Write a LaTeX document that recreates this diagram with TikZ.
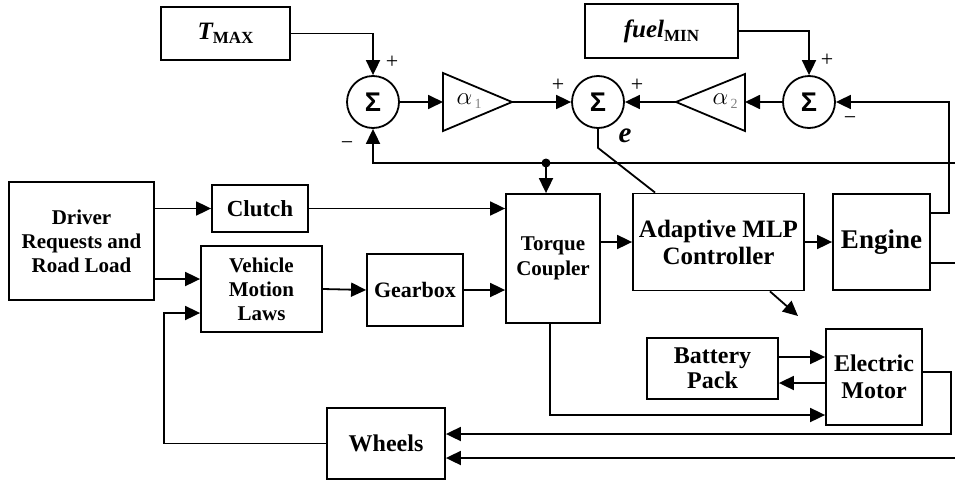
\documentclass[tikz,border=0pt]{standalone}
\usepackage{fontspec}
\setmainfont{Liberation Serif}
\newfontfamily\sansf{Liberation Sans}
\usetikzlibrary{arrows.meta}
\begin{document}
\begin{tikzpicture}[x=1pt,y=-1pt,
  blk/.style={draw, line width=1.8pt, inner sep=0pt, align=center},
  sumn/.style={draw, circle, line width=1.8pt, minimum size=52pt, inner sep=0pt, font=\sansf\fontsize{27}{27}\selectfont\bfseries},
  ln/.style={line width=1.8pt},
  arr/.style={line width=1.8pt, -{Triangle[length=15pt,width=14pt]}},
  sgn/.style={font=\fontsize{22}{22}\selectfont, inner sep=0pt}]
\useasboundingbox (0,0) rectangle (955,482);

% top references
\node[blk, minimum width=129pt, minimum height=53pt] (tmax) at (225.5,33.5)
  {{\fontsize{25}{25}\selectfont\bfseries\itshape T}{\fontsize{17}{17}\selectfont\bfseries\raisebox{-4pt}{MAX}}};
\node[blk, minimum width=153pt, minimum height=54pt] (fuel) at (661.5,31)
  {{\fontsize{25}{25}\selectfont\bfseries\itshape fuel}{\fontsize{17}{17}\selectfont\bfseries\raisebox{-4pt}{MIN}}};

% summing junctions
\node[sumn] (s1) at (373,102) {Σ};
\node[sumn] (s2) at (598,102) {Σ};
\node[sumn] (s3) at (809,102) {Σ};

% gains
\draw[ln] (443,73) -- (512,102) -- (443,131) -- cycle;
\coordinate (a1in) at (443,102);
\coordinate (a1out) at (512,102);
\node (a1lab) at (469,101) {\fontsize{28}{28}\selectfont$\alpha$\raisebox{-4pt}{\fontsize{14}{14}\selectfont\color{gray}\,1}};
\draw[ln] (676,102) -- (745,74) -- (745,131) -- cycle;
\coordinate (a2in) at (745,102);
\coordinate (a2out) at (676,102);
\node (a2lab) at (725,101) {\fontsize{28}{28}\selectfont$\alpha$\raisebox{-4pt}{\fontsize{14}{14}\selectfont\color{gray}\,2}};

% signs
\node[sgn] (p1) at (392,62) {+};
\node[sgn] (m1) at (347,146) {−};
\node[sgn] (p2) at (558,85) {+};
\node[sgn] (p3) at (637,85) {+};
\node[sgn] (p4) at (827,60) {+};
\node[sgn] (m3) at (850,121) {−};
\node[font=\fontsize{29}{29}\selectfont\bfseries\itshape, inner sep=0pt] (elab) at (625,136) {e};

% blocks
\node[blk, minimum width=145pt, minimum height=118pt, font=\fontsize{21}{24}\selectfont\bfseries] (drv) at (81.5,241) {Driver\\Requests and\\Road Load};
\node[blk, minimum width=96pt, minimum height=47pt, font=\fontsize{23}{24}\selectfont\bfseries] (cl) at (260,208.5) {Clutch};
\node[blk, minimum width=121pt, minimum height=86pt, font=\fontsize{21}{24}\selectfont\bfseries] (vml) at (261.5,289) {Vehicle\\Motion\\Laws};
\node[blk, minimum width=96pt, minimum height=72pt, font=\fontsize{22}{24}\selectfont\bfseries] (gb) at (415,290) {Gearbox};
\node[blk, minimum width=94pt, minimum height=129pt, font=\fontsize{21}{25}\selectfont\bfseries] (tc) at (553,258.5) {Torque\\Coupler};
\node[blk, minimum width=171pt, minimum height=97pt, font=\fontsize{25}{27}\selectfont\bfseries] (mlp) at (718.5,242) {Adaptive MLP\\Controller};
\node[blk, minimum width=97pt, minimum height=96pt, font=\fontsize{27}{27}\selectfont\bfseries] (eng) at (881.5,242) {Engine};
\node[blk, minimum width=131pt, minimum height=61pt, font=\fontsize{24}{25}\selectfont\bfseries] (bat) at (712.5,368.5) {Battery\\Pack};
\node[blk, minimum width=96pt, minimum height=96pt, font=\fontsize{24}{27}\selectfont\bfseries] (mot) at (874,377) {Electric\\Motor};
\node[blk, minimum width=118pt, minimum height=71pt, font=\fontsize{24}{25}\selectfont\bfseries] (wh) at (386,443.5) {Wheels};

% top loop connectors
\draw[arr] (tmax.east) -| (s1.north);
\draw[arr] (fuel.east) -| (s3.north);
\draw[arr] (s1.east) -- (a1in);
\draw[arr] (a1out) -- (s2.west);
\draw[arr] (s3.west) -- (a2in);
\draw[arr] (a2out) -- (s2.east);
\coordinate (eup) at (930,213);
\draw[arr] (eup) -- ++(19,0) |- (s3.east);
\coordinate (fbR) at (955,163);
\coordinate (dot) at (546,163);
\draw[arr] (fbR) -| (s1.south);
\fill (dot) circle (4.5pt);
\draw[arr] (dot) -- (dot |- tc.north);
\draw[ln] (s2.south) -- ++(0,19) -- ([xshift=23pt]mlp.north west);

% drive chain
\draw[arr] (drv.east |- cl.west) -- (cl.west);
\draw[arr] (cl.east) -- (cl.east -| tc.west);
\coordinate (dv) at (154,279);
\draw[arr] (dv) -- (dv -| vml.west);
\draw[arr] (vml.east) -- (gb.west);
\draw[arr] (gb.east) -- (gb.east -| tc.west);
\draw[arr] (tc.east |- mlp.west) -- (mlp.west);
\draw[arr] (mlp.east) -- (eng.west);
\coordinate (mlpd) at (798,316);
\draw[arr] ([xshift=51.5pt]mlp.south) -- (mlpd);
\coordinate (elo) at (955,263);
\draw[ln] (eng.east |- elo) -- (elo);

% battery / motor
\coordinate (bm1) at (0,357);
\coordinate (bm2) at (0,383);
\draw[arr] (bat.east |- bm1) -- (mot.west |- bm1);
\draw[arr] (mot.west |- bm2) -- (bat.east |- bm2);
\coordinate (tb) at (550,415);
\draw[arr] (tb |- tc.south) -- (tb) -- (tb -| mot.west);
\coordinate (m372) at (0,372);
\coordinate (mr) at (951,434);
\draw[arr] (mot.east |- m372) -| (mr) -- (mr -| wh.east);
\coordinate (bl) at (955,458);
\draw[arr] (bl) -- (bl -| wh.east);
\coordinate (wl) at (164,313);
\draw[arr] (wh.west) -| (wl) -- (wl -| vml.west);
\end{tikzpicture}
\end{document}
